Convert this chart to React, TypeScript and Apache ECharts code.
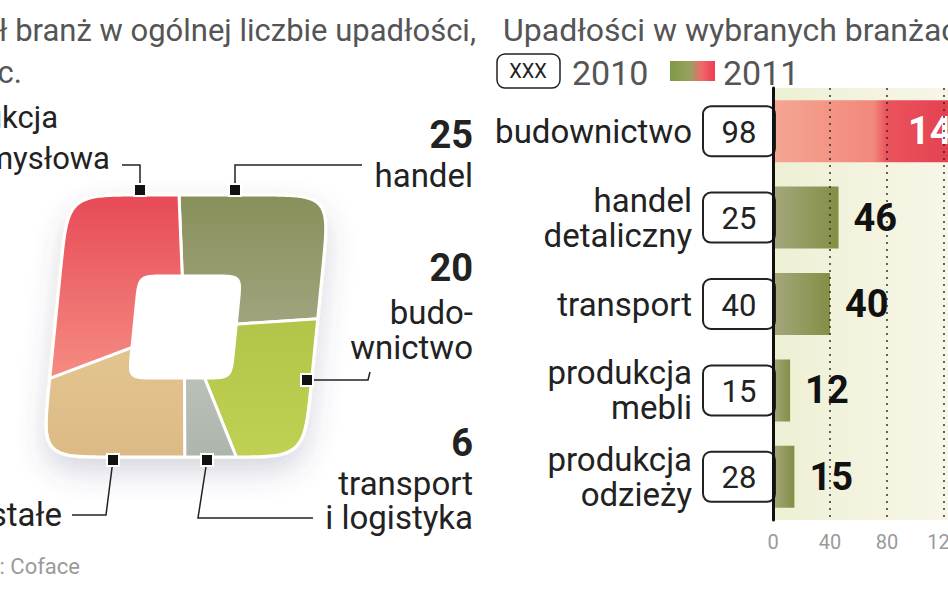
import { useEffect, useRef } from "react";
import * as echarts from "echarts";

// udział branż w ogólnej liczbie upadłości, proc. (od godz. 12, zgodnie z ruchem wskazówek)
const shareNames = ["handel", "budownictwo", "transport i logistyka", "pozostałe", "produkcja przemysłowa"];
const shareValues = [25, 20, 6, 19, 30];
const shareStartDeg = -3;

// upadłości w wybranych branżach
const categories = ["budownictwo", "handel\ndetaliczny", "transport", "produkcja\nmebli", "produkcja\nodzieży"];
const values2010 = [98, 25, 40, 15, 28];
const values2011 = [142, 46, 40, 12, 15];
const xTicks = [0, 40, 80, 120, 160];

const F = "Roboto, 'Noto Sans', sans-serif";

// wykres jest szerszy niż strona: oś x biegnie poza prawą krawędź, jak w oryginale
const CHART_W = 1030;

const SHARE_FILLS = [
  ["#88905a", "#a1a37e"],
  ["#b2c549", "#c0d052"],
  ["#b9c0b7", "#adb5ac"],
  ["#e3c590", "#dbba85"],
  ["#e74a57", "#f58c82"],
];

type Pt = { a: number; x: number; y: number };

// zaokrąglony, pochylony kwadrat (superelipsa) posortowany wg kąta od środka
function ring(cx: number, cy: number, r: number, n: number, skew: number): Pt[] {
  const pts: Pt[] = [];
  const N = 1440;
  for (let i = 0; i < N; i++) {
    const t = (i / N) * Math.PI * 2;
    const s = Math.sin(t);
    const c = Math.cos(t);
    const dx = r * Math.sign(s) * Math.pow(Math.abs(s), 2 / n);
    const dy = -r * Math.sign(c) * Math.pow(Math.abs(c), 2 / n);
    const x = cx + dx - skew * dy;
    const y = cy + dy;
    let a = (Math.atan2(x - cx, -(y - cy)) * 180) / Math.PI;
    if (a < 0) a += 360;
    pts.push({ a, x, y });
  }
  pts.sort((p, q) => p.a - q.a);
  return pts;
}

function at(pts: Pt[], deg: number): number[] {
  const a = ((deg % 360) + 360) % 360;
  const i = pts.findIndex((p) => p.a >= a);
  const p1 = i === -1 ? pts[0] : pts[i];
  const p0 = pts[(i <= 0 ? pts.length : i) - 1];
  const a0 = p0.a;
  let a1 = p1.a;
  let aa = a;
  if (a1 < a0) a1 += 360;
  if (aa < a0) aa += 360;
  const f = a1 === a0 ? 0 : (aa - a0) / (a1 - a0);
  return [p0.x + (p1.x - p0.x) * f, p0.y + (p1.y - p0.y) * f];
}

const OUTER = ring(186, 326, 131, 9, 0.1);
const INNER = ring(185, 327, 51, 10, 0.1);

export default function App() {
  const ref = useRef<HTMLDivElement>(null);

  useEffect(() => {
    if (!ref.current) return;
    document.documentElement.style.overflow = "hidden";
    const chart = echarts.init(ref.current, undefined, { renderer: "svg" });

    const total = shareValues.reduce((s, v) => s + v, 0);
    const starts: number[] = [];
    let acc = shareStartDeg;
    shareValues.forEach((v) => {
      starts.push(acc);
      acc += (v / total) * 360;
    });

    const redBar = new echarts.graphic.LinearGradient(0, 0, 1, 0, [
      { offset: 0, color: "#f5a693" },
      { offset: 0.5, color: "#f2887b" },
      { offset: 0.56, color: "#ea535c" },
      { offset: 1, color: "#e23a4d" },
    ]);
    const greenBar = new echarts.graphic.LinearGradient(0, 0, 1, 0, [
      { offset: 0, color: "#a5a77c" },
      { offset: 1, color: "#838e45" },
    ]);

    const leader = (points: number[][]) => ({
      type: "polyline",
      z: 10,
      shape: { points },
      style: { stroke: "#222", lineWidth: 1.5, fill: "none" },
    });
    const marker = (x: number, y: number) => ({
      type: "rect",
      z: 11,
      shape: { x: x - 6, y: y - 6, width: 12, height: 12 },
      style: { fill: "#111", stroke: "#fff", lineWidth: 2 },
    });
    const txt = (
      text: string,
      x: number,
      y: number,
      size: number,
      align: string,
      opts: Record<string, unknown> = {}
    ) => ({
      type: "text",
      z: 10,
      x,
      y,
      style: {
        text,
        fontSize: size,
        fontFamily: F,
        fill: "#222",
        align,
        verticalAlign: "middle",
        ...opts,
      },
    });

    chart.setOption({
      animation: false,
      backgroundColor: "#fff",
      grid: {
        left: 773,
        top: 88,
        bottom: 73,
        right: CHART_W - 1001,
        show: true,
        borderWidth: 0,
        backgroundColor: new echarts.graphic.LinearGradient(0, 0, 1, 0, [
          { offset: 0, color: "#eef0d4" },
          { offset: 1, color: "#faf8ee" },
        ]),
      },
      xAxis: {
        type: "value",
        min: xTicks[0],
        max: xTicks[xTicks.length - 1],
        interval: xTicks[1] - xTicks[0],
        axisLine: { show: false },
        axisTick: { show: false },
        axisLabel: { color: "#9a9a9a", fontSize: 20, margin: 12, fontFamily: F },
        splitLine: { show: false },
      },
      yAxis: {
        type: "category",
        data: categories,
        inverse: true,
        z: 6,
        axisLine: { show: true, lineStyle: { color: "#111", width: 3 } },
        axisTick: { show: false },
        axisLabel: {
          margin: 81,
          fontSize: 33,
          lineHeight: 35,
          color: "#222",
          fontFamily: F,
        },
      },
      series: [
        {
          type: "custom",
          coordinateSystem: "none",
          data: shareValues,
          z: 2,
          renderItem: (params: any) => {
            const i = params.dataIndex;
            const a0 = starts[i];
            const a1 = a0 + (shareValues[i] / total) * 360;
            const pts: number[][] = [];
            for (let a = a0; a < a1; a += 0.5) pts.push(at(OUTER, a));
            pts.push(at(OUTER, a1));
            for (let a = a1; a > a0; a -= 0.5) pts.push(at(INNER, a));
            pts.push(at(INNER, a0));
            return {
              type: "polygon",
              shape: { points: pts },
              style: {
                fill: new echarts.graphic.LinearGradient(0, 0, 0, 1, [
                  { offset: 0, color: SHARE_FILLS[i][0] },
                  { offset: 1, color: SHARE_FILLS[i][1] },
                ]),
                stroke: "#fff",
                lineWidth: 3,
              },
            };
          },
        },
        {
          type: "bar",
          name: "2011",
          barWidth: 62,
          z: 2,
          data: values2011.map((v, i) =>
            i === 0
              ? {
                  value: v,
                  itemStyle: { color: redBar },
                  label: { position: "insideRight", color: "#fff", distance: 2 },
                }
              : { value: v, itemStyle: { color: greenBar } }
          ),
          label: {
            show: true,
            position: "right",
            distance: 15,
            fontSize: 38,
            fontWeight: "bold",
            color: "#111",
            fontFamily: F,
          },
        },
        {
          // kropkowane linie siatki nad słupkami
          type: "custom",
          z: 4,
          data: xTicks.slice(1).map((v) => [v, 0]),
          encode: { x: 0, y: 1 },
          renderItem: (params: any, api: any) => {
            const cs = params.coordSys;
            const x = api.coord([api.value(0), 0])[0];
            return {
              type: "line",
              shape: { x1: x, y1: cs.y, x2: x, y2: cs.y + cs.height },
              style: { stroke: "rgba(40,40,40,0.72)", lineWidth: 2, lineDash: [2, 5] },
            };
          },
        },
        {
          type: "custom",
          name: "2010",
          z: 3,
          data: values2010.map((v, i) => [0, i, v]),
          encode: { x: 0, y: 1 },
          renderItem: (_params: any, api: any) => {
            const p = api.coord([0, api.value(1)]);
            return {
              type: "group",
              children: [
                {
                  type: "rect",
                  shape: { x: p[0] - 70, y: p[1] - 25, width: 72, height: 50, r: 8 },
                  style: { fill: "#fff", stroke: "#222", lineWidth: 2 },
                },
                {
                  type: "text",
                  x: p[0] - 34,
                  y: p[1] + 1,
                  style: {
                    text: String(api.value(2)),
                    fontSize: 31,
                    fontFamily: F,
                    fill: "#222",
                    align: "center",
                    verticalAlign: "middle",
                  },
                },
              ],
            };
          },
        },
      ],
      graphic: [
        {
          type: "polygon",
          z: 0,
          shape: { points: OUTER.map((p) => [p.x, p.y]) },
          style: {
            fill: "#fff",
            stroke: "#fbf6dc",
            lineWidth: 4,
            shadowBlur: 28,
            shadowOffsetY: 14,
            shadowColor: "rgba(70,70,120,0.22)",
          },
        },
        // tytuły
        txt("Udział branż w ogólnej liczbie upadłości,", 476, 30, 31, "right", { fill: "#555" }),
        txt("proc.", 22, 72, 31, "right", { fill: "#555" }),
        txt("Upadłości w wybranych branżach", 503, 30, 32, "left", { fill: "#555" }),
        // legenda
        {
          type: "rect",
          z: 10,
          shape: { x: 497, y: 54, width: 63, height: 34, r: 8 },
          style: { fill: "#fff", stroke: "#222", lineWidth: 1.5 },
        },
        txt("XXX", 528, 71, 20, "center"),
        txt("2010", 572, 73, 34, "left", { fill: "#555" }),
        {
          type: "rect",
          z: 10,
          shape: { x: 670, y: 61, width: 45, height: 20 },
          style: {
            fill: new echarts.graphic.LinearGradient(0, 0, 1, 0, [
              { offset: 0, color: "#7f9a45" },
              { offset: 0.45, color: "#9aa060" },
              { offset: 0.7, color: "#ee6a6a" },
              { offset: 1, color: "#f03a55" },
            ]),
          },
        },
        txt("2011", 723, 73, 34, "left", { fill: "#555" }),
        // opisy wykresu udziałów
        txt("Produkcja", 58, 117, 31, "right"),
        txt("przemysłowa", 110, 158, 31, "right"),
        txt(String(shareValues[0]), 473, 135, 38, "right", { fontWeight: "bold" }),
        txt(shareNames[0], 473, 175, 33, "right"),
        txt(String(shareValues[1]), 473, 268, 38, "right", { fontWeight: "bold" }),
        txt("budo-", 473, 312, 33, "right"),
        txt("wnictwo", 473, 347, 33, "right"),
        txt(String(shareValues[2]), 473, 443, 38, "right", { fontWeight: "bold" }),
        txt("transport", 473, 483, 33, "right"),
        txt("i logistyka", 473, 517, 33, "right"),
        txt("Pozostałe", 62, 514, 33, "right"),
        txt("Źródło: Coface", 80, 566, 22, "right", { fill: "#9a9a9a" }),
        leader([[140, 190], [140, 165], [122, 165]]),
        leader([[235, 190], [235, 165], [362, 165]]),
        leader([[307, 380], [368, 380], [370, 372]]),
        leader([[207, 460], [198, 518], [313, 518]]),
        leader([[113, 460], [106, 515], [72, 515]]),
        marker(140, 190),
        marker(235, 190),
        marker(307, 380),
        marker(207, 460),
        marker(113, 460),
      ],
    });

    return () => chart.dispose();
  }, []);

  return (
    <div
      ref={ref}
      style={{ position: "fixed", left: 0, top: 0, width: `${CHART_W}px`, height: "593px" }}
    />
  );
}
